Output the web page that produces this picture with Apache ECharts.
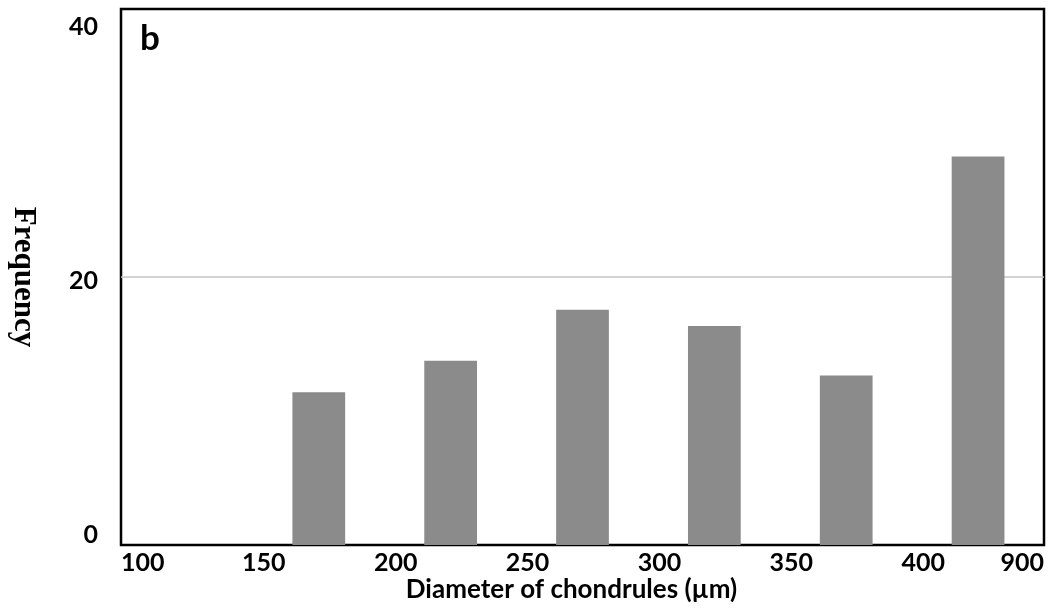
<!DOCTYPE html>
<html>
<head>
<meta charset="utf-8">
<script src="https://cdn.jsdelivr.net/npm/echarts@6/dist/echarts.min.js"></script>
<style>html,body{margin:0;padding:0;background:#fff}#c{width:1059px;height:608px}</style>
</head>
<body>
<div id="c"></div>
<script>
// Data
var binNames = ['100–150', '150–200', '200–250', '250–300', '300–350', '350–400', '400–900'];
var frequency = [0, 11.4, 13.75, 17.55, 16.35, 12.65, 29.0];
var xTickLabels = ['100', '150', '200', '250', '300', '350', '400', '900'];
var yTickValues = [0, 20, 40];
var panelLabel = 'b';
var xTitle = 'Diameter of chondrules (µm)';
var yTitle = 'Frequency';

var chart = echarts.init(document.getElementById('c'), null, {renderer: 'canvas'});
var sans = 'Lato, "Open Sans", sans-serif';
chart.setOption({
  animation: false,
  backgroundColor: '#fff',
  title: {
    text: panelLabel, left: 135, top: 16,
    textStyle: {fontFamily: sans, fontWeight: 'bold', fontSize: 35, color: '#000'}
  },
  grid: {left: 119, right: 15, top: 9, bottom: 61, show: true, borderColor: '#000', borderWidth: 2.5, backgroundColor: 'transparent'},
  xAxis: [{
    type: 'category', data: binNames, boundaryGap: true,
    axisLine: {show: false}, axisTick: {show: false}, axisLabel: {show: false}, splitLine: {show: false},
    name: xTitle, nameLocation: 'middle', nameGap: 32,
    nameTextStyle: {fontFamily: sans, fontWeight: 'bold', fontSize: 26, color: '#000', padding: [0, 22, 0, 0]}
  }, {
    type: 'value', min: 0, max: xTickLabels.length - 1, interval: 1, position: 'bottom',
    axisLine: {show: false}, axisTick: {show: false}, splitLine: {show: false},
    axisLabel: {
      show: true, margin: 5, alignMinLabel: 'left', alignMaxLabel: 'right',
      fontFamily: sans, fontWeight: 'bold', fontSize: 25, color: '#000',
      formatter: function (v) {
        var i = Math.round(v);
        var t = xTickLabels[i];
        if (i === 0 || i === xTickLabels.length - 1) return '{e|' + t + '}';
        return '{m|' + t + '}';
      },
      rich: {
        e: {fontFamily: sans, fontWeight: 'bold', fontSize: 25, color: '#000'},
        m: {fontFamily: sans, fontWeight: 'bold', fontSize: 25, color: '#000', padding: [0, 0, 0, 22]}
      }
    }
  }],
  yAxis: [{
    type: 'value', min: 0, max: 40, interval: 20,
    axisLine: {show: false}, axisTick: {show: false}, axisLabel: {show: false},
    splitLine: {show: true, showMinLine: false, showMaxLine: false, lineStyle: {color: '#c4c4c4', width: 1.5}},
    name: yTitle, nameLocation: 'middle', nameGap: 82, nameRotate: -90,
    nameTextStyle: {fontFamily: '"Liberation Serif", "Times New Roman", serif', fontWeight: 'bold', fontSize: 31, color: '#000'}
  }, {
    type: 'value', position: 'left', min: -0.784, max: 41.41,
    axisLine: {show: false}, axisTick: {show: false}, splitLine: {show: false},
    axisLabel: {show: true, customValues: yTickValues, margin: 23, fontFamily: sans, fontWeight: 'bold', fontSize: 25, color: '#000'}
  }],
  series: [{
    type: 'bar', xAxisIndex: 0, yAxisIndex: 0, data: frequency, barWidth: '40%',
    itemStyle: {color: '#8b8b8b'}, silent: true
  }]
});
</script>
</body>
</html>
